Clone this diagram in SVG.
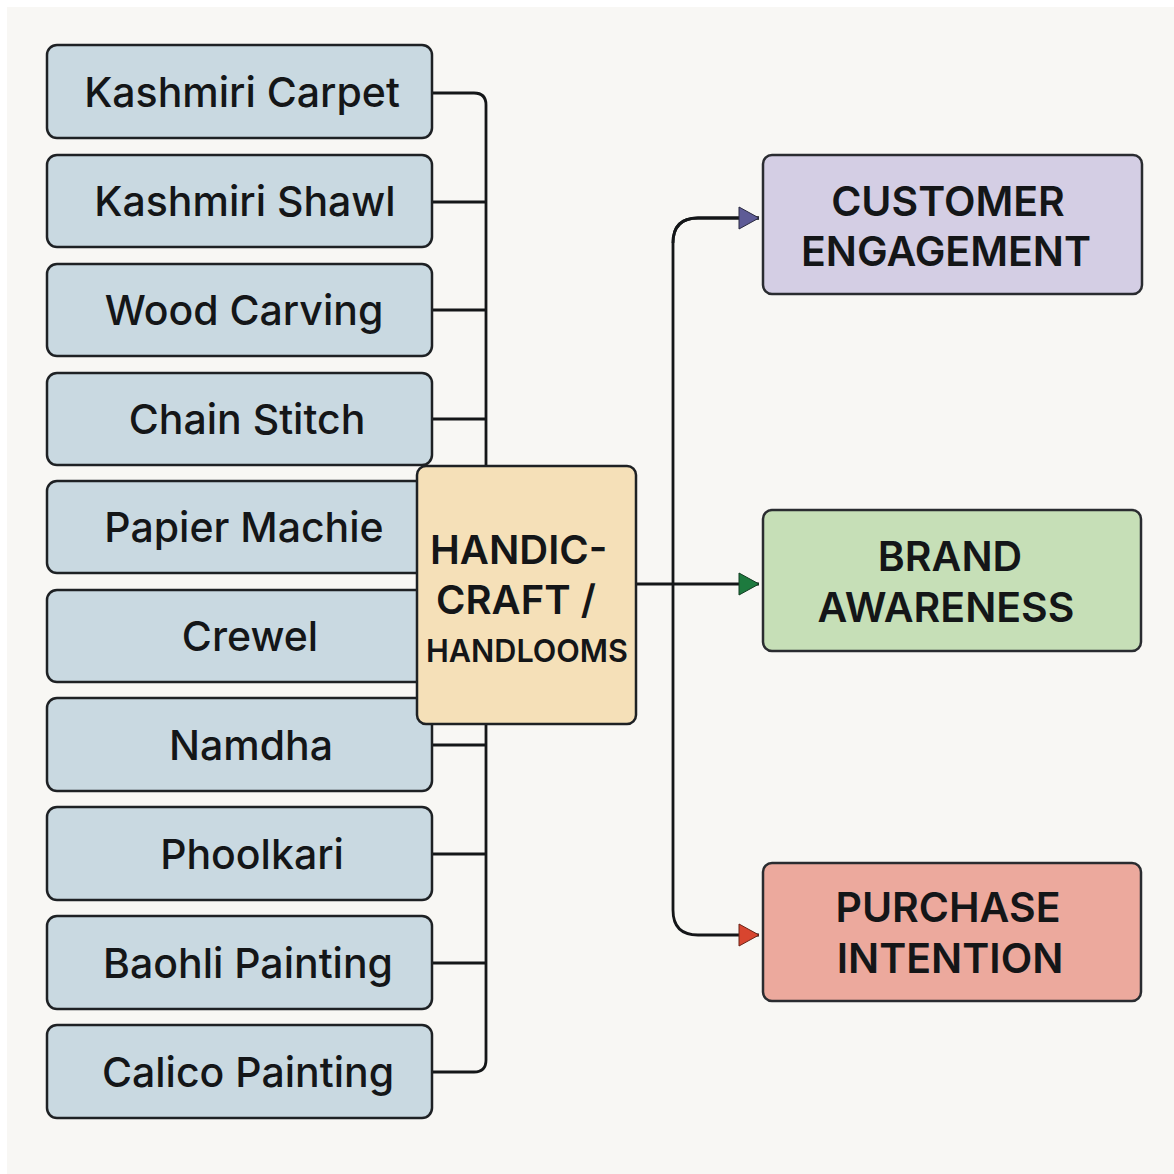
<svg xmlns="http://www.w3.org/2000/svg" width="1174" height="1174" viewBox="0 0 1174 1174">
  <defs>
    <style>
      .item rect { fill: #c9d9e1; stroke: #1e2124; stroke-width: 2.5; }
      .item text { font-family: Inter, "Noto Sans", "DejaVu Sans", sans-serif; font-size: 41px; font-weight: 500; fill: #141618; text-anchor: middle; }
      .out text { font-family: Inter, "Noto Sans", "DejaVu Sans", sans-serif; font-size: 41px; font-weight: 600; fill: #141618; text-anchor: middle; }
      .out rect { stroke: #2a2c30; stroke-width: 2.5; }
      .wire { fill: none; stroke: #141618; stroke-width: 2.8; }
      .hub text { font-family: Inter, "Noto Sans", "DejaVu Sans", sans-serif; font-weight: 600; fill: #141618; }
    </style>
    <marker id="arrPurple" viewBox="0 0 22 24" refX="21" refY="12" markerWidth="22" markerHeight="24" markerUnits="userSpaceOnUse" orient="auto">
      <path d="M1,1 L21,12 L1,23 Z" fill="#5e5b96" stroke="#2a2a40" stroke-width="1"/>
    </marker>
    <marker id="arrGreen" viewBox="0 0 22 24" refX="21" refY="12" markerWidth="22" markerHeight="24" markerUnits="userSpaceOnUse" orient="auto">
      <path d="M1,1 L21,12 L1,23 Z" fill="#1d7a3e" stroke="#123d22" stroke-width="1"/>
    </marker>
    <marker id="arrRed" viewBox="0 0 22 24" refX="21" refY="12" markerWidth="22" markerHeight="24" markerUnits="userSpaceOnUse" orient="auto">
      <path d="M1,1 L21,12 L1,23 Z" fill="#d8452f" stroke="#6a2418" stroke-width="1"/>
    </marker>
  </defs>

  <rect x="0" y="0" width="1174" height="1174" fill="#ffffff"/>
  <rect x="7" y="7" width="1167" height="1167" fill="#f8f7f4"/>

  <!-- connectors -->
  <g id="connectors">
    <!-- bus on the left collecting every craft -->
    <path class="wire" d="M432,93 H474 Q486,93 486,105 V1060 Q486,1072 474,1072 H432"/>
    <path class="wire" d="M432,202 H486"/>
    <path class="wire" d="M432,310 H486"/>
    <path class="wire" d="M432,419 H486"/>
    <path class="wire" d="M432,745 H486"/>
    <path class="wire" d="M432,854 H486"/>
    <path class="wire" d="M432,963 H486"/>
    <!-- hub to outcomes -->
    <path class="wire" d="M636,584 H759" marker-end="url(#arrGreen)"/>
    <path class="wire" d="M759,218 H698 Q673,218 673,243 V910 Q673,935 698,935 H759" marker-end="url(#arrRed)"/>
    <path class="wire" d="M673,243 Q673,218 698,218 H759" marker-end="url(#arrPurple)"/>
  </g>

  <!-- crafts -->
  <g id="kashmiri-carpet" class="item"><rect x="47" y="45" width="385" height="93" rx="10"/><text x="242" y="107">Kashmiri Carpet</text></g>
  <g id="kashmiri-shawl" class="item"><rect x="47" y="155" width="385" height="92" rx="10"/><text x="245" y="216">Kashmiri Shawl</text></g>
  <g id="wood-carving" class="item"><rect x="47" y="264" width="385" height="92" rx="10"/><text x="244" y="325">Wood Carving</text></g>
  <g id="chain-stitch" class="item"><rect x="47" y="373" width="385" height="92" rx="10"/><text x="247" y="434">Chain Stitch</text></g>
  <g id="papier-machie" class="item"><rect x="47" y="481" width="385" height="92" rx="10"/><text x="244" y="542">Papier Machie</text></g>
  <g id="crewel" class="item"><rect x="47" y="590" width="385" height="92" rx="10"/><text x="250" y="651">Crewel</text></g>
  <g id="namdha" class="item"><rect x="47" y="698" width="385" height="93" rx="10"/><text x="251" y="760">Namdha</text></g>
  <g id="phoolkari" class="item"><rect x="47" y="807" width="385" height="93" rx="10"/><text x="252" y="869">Phoolkari</text></g>
  <g id="baohli-painting" class="item"><rect x="47" y="916" width="385" height="93" rx="10"/><text x="248" y="978">Baohli Painting</text></g>
  <g id="calico-painting" class="item"><rect x="47" y="1025" width="385" height="93" rx="10"/><text x="248" y="1087">Calico Painting</text></g>

  <!-- hub -->
  <g id="handicraft-handlooms" class="hub">
    <rect x="417" y="466" width="219" height="258" rx="9" fill="#f5e0b8" stroke="#1e2124" stroke-width="2.5"/>
    <text x="430" y="564" font-size="40">HANDIC-</text>
    <text x="436" y="614" font-size="40">CRAFT /</text>
    <text x="426" y="662" font-size="31" font-weight="500" textLength="202" lengthAdjust="spacingAndGlyphs">HANDLOOMS</text>
  </g>

  <!-- outcomes -->
  <g id="customer-engagement" class="out">
    <rect x="763" y="155" width="379" height="139" rx="9" fill="#d4cee4"/>
    <text x="948" y="216">CUSTOMER</text>
    <text x="946" y="266">ENGAGEMENT</text>
  </g>
  <g id="brand-awareness" class="out">
    <rect x="763" y="510" width="378" height="141" rx="9" fill="#c6dfb7"/>
    <text x="950" y="571">BRAND</text>
    <text x="946" y="622">AWARENESS</text>
  </g>
  <g id="purchase-intention" class="out">
    <rect x="763" y="863" width="378" height="138" rx="9" fill="#eca99d"/>
    <text x="948" y="922">PURCHASE</text>
    <text x="950" y="973">INTENTION</text>
  </g>
</svg>
